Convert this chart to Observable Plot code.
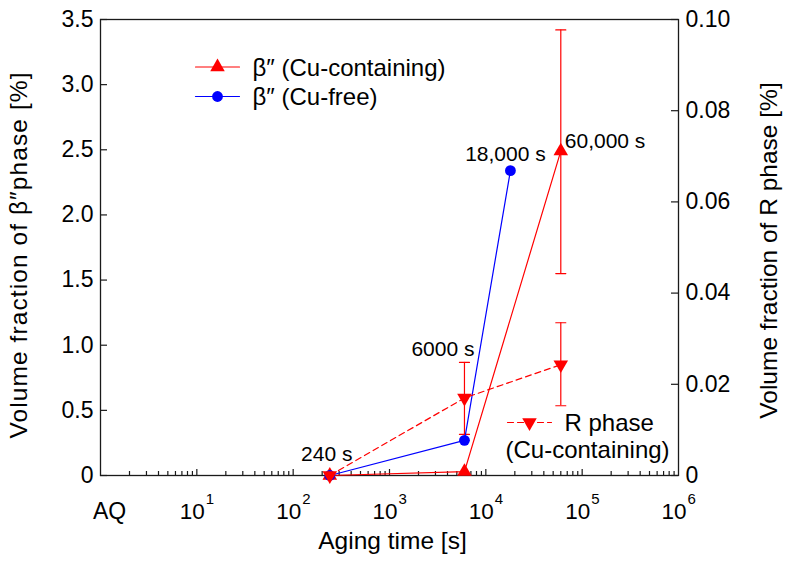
<!DOCTYPE html>
<html>
<head>
<meta charset="utf-8">
<script src="https://cdn.jsdelivr.net/npm/d3@7"></script>
<script src="https://cdn.jsdelivr.net/npm/@observablehq/plot@0.6"></script>
<style>
  html, body { margin: 0; padding: 0; background: #fff; }
</style>
</head>
<body>
<div id="chart"></div>
<script>
// Aging times [s] for each series
const cuTimes = [240, 6000, 60000];
const freeTimes = [240, 6000, 18000];

// β″ volume fraction [%], left axis
const betaCu = [0, 0.03, 2.49];
const betaCuLow = [null, null, 1.55];
const betaCuHigh = [null, null, 3.42];
const betaFree = [0, 0.27, 2.34];

// R phase volume fraction [%], right axis
const rPhase = [0, 0.017, 0.0243];
const rLow = [null, 0.009, 0.0153];
const rHigh = [null, 0.0248, 0.0335];

// Aging-time annotations
const timeLabels = ["240 s", "6000 s", "18,000 s", "60,000 s"];

// Axis ticks
const leftTicks = [0, 0.5, 1.0, 1.5, 2.0, 2.5, 3.0, 3.5];
const rightTicks = [0, 0.02, 0.04, 0.06, 0.08, 0.10];
const decadeExponents = [1, 2, 3, 4, 5, 6];
const xTickLabels = ["AQ"];

// Axis titles
const xTitle = "Aging time [s]";
const leftTitle = "Volume fraction of β\u2033phase [%]";
const rightTitle = "Volume fraction of R phase [%]";

// Right axis maps onto the left scale
const rightMax = 0.10, leftMax = 3.5;
const k = leftMax / rightMax;

const cuRows = cuTimes.map((t, i) => ({t, v: betaCu[i], lo: betaCuLow[i], hi: betaCuHigh[i]}));
const freeRows = freeTimes.map((t, i) => ({t, v: betaFree[i]}));
const rRows = cuTimes.map((t, i) => ({
  t, v: rPhase[i] * k,
  lo: rLow[i] == null ? null : rLow[i] * k,
  hi: rHigh[i] == null ? null : rHigh[i] * k
}));
const errRows = [...cuRows, ...rRows].filter(d => d.lo != null);

const majorTicks = [1, 2, 3, 4, 5].map(e => 10 ** e);
const minorTicks = [];
for (let e = 0; e < 6; e++) for (let m = 2; m <= 9; m++) minorTicks.push(m * 10 ** e);

const RED = "#ff0000", BLUE = "#0000ff", INK = "#1a1a1a";
const W = 789, H = 561, ML = 100, MR = 111, MT = 19, MB = 86;
const plotW = W - ML - MR, plotH = H - MT - MB;
const DASH = "6,4";

// straight segment used for legend lines and error-bar caps
const segment = {draw(context, l) { context.moveTo(0, 0); context.lineTo(0, -l); }};

function legendEntry(label, color, symbol, rotate, dash, dx, dy) {
  return [
    Plot.vector([0], {frameAnchor: "top-left", dx, dy, length: 44, rotate: 90, anchor: "start",
      shape: segment, stroke: color, strokeWidth: 1.2, strokeDasharray: dash}),
    Plot.dot([0], {frameAnchor: "top-left", dx: dx + 22, dy, symbol, r: 5.4, fill: color, rotate}),
    Plot.text([label], {frameAnchor: "top-left", dx: dx + 57, dy: dy + 1, text: d => d,
      textAnchor: "start", lineAnchor: "middle", fontSize: 24, fill: "#000"})
  ];
}

const chart = Plot.plot({
  width: W, height: H,
  marginLeft: ML, marginRight: MR, marginTop: MT, marginBottom: MB,
  style: {fontFamily: "'Liberation Sans', Arial, sans-serif", fontSize: "23px", color: "#000", background: "#fff"},
  x: {type: "log", domain: [1, 1e6], axis: null},
  y: {domain: [0, leftMax]},
  marks: [
    // tick marks pointing into the frame
    Plot.tickY(leftTicks, {y: d => d, insetRight: plotW - 7, stroke: INK, strokeWidth: 1.2}),
    Plot.tickY(rightTicks, {y: d => d * k, insetLeft: plotW - 7, stroke: INK, strokeWidth: 1.2}),
    Plot.tickX(majorTicks, {x: d => d, insetTop: plotH - 6, stroke: INK, strokeWidth: 1.2}),
    Plot.tickX(minorTicks, {x: d => d, insetTop: plotH - 4, stroke: INK, strokeWidth: 1.2}),
    Plot.frame({stroke: INK, strokeWidth: 1.3}),

    // left and right tick labels
    Plot.axisY(leftTicks, {anchor: "left", tickSize: 0, tickPadding: 7, fontSize: 23, label: null,
      tickFormat: d => d === 0 ? "0" : d.toFixed(1)}),
    Plot.axisY(rightTicks.map(d => d * k), {anchor: "right", tickSize: 0, tickPadding: 7, fontSize: 23, label: null,
      tickFormat: d => { const v = d / k; return v < 1e-9 ? "0" : v.toFixed(2); }}),

    // x tick labels: AQ and powers of ten
    Plot.text(xTickLabels, {x: 1, frameAnchor: "bottom", dx: 9, dy: 43, text: d => d,
      textAnchor: "middle", lineAnchor: "bottom", fontSize: 23}),
    Plot.text(decadeExponents, {x: d => 10 ** d, frameAnchor: "bottom", dx: 8, dy: 43, text: () => "10",
      textAnchor: "end", lineAnchor: "bottom", fontSize: 22.5}),
    Plot.text(decadeExponents, {x: d => 10 ** d, frameAnchor: "bottom", dx: 9, dy: 28, text: d => String(d),
      textAnchor: "start", lineAnchor: "bottom", fontSize: 15}),

    // axis titles
    Plot.text([xTitle], {frameAnchor: "bottom", dx: 3, dy: 73, text: d => d,
      textAnchor: "middle", lineAnchor: "bottom", fontSize: 24.5}),
    Plot.text([leftTitle], {frameAnchor: "left", dx: -81, dy: 8, rotate: -90, text: d => d,
      textAnchor: "middle", lineAnchor: "middle", fontSize: 24.5, className: "left-title"}),
    Plot.text([rightTitle], {frameAnchor: "right", dx: 91, dy: 3, rotate: -90, text: d => d,
      textAnchor: "middle", lineAnchor: "middle", fontSize: 24.5}),

    // error bars
    Plot.ruleX(errRows, {x: "t", y1: "lo", y2: "hi", stroke: RED, strokeWidth: 1.2}),
    Plot.vector(errRows, {x: "t", y: "hi", length: 10, rotate: 90, anchor: "middle", shape: segment, stroke: RED, strokeWidth: 1.2}),
    Plot.vector(errRows, {x: "t", y: "lo", length: 10, rotate: 90, anchor: "middle", shape: segment, stroke: RED, strokeWidth: 1.2}),

    // series
    Plot.line(cuRows, {x: "t", y: "v", stroke: RED, strokeWidth: 1.2}),
    Plot.line(freeRows, {x: "t", y: "v", stroke: BLUE, strokeWidth: 1.2}),
    Plot.line(rRows, {x: "t", y: "v", stroke: RED, strokeWidth: 1.2, strokeDasharray: DASH}),
    Plot.dot(cuRows, {x: "t", y: "v", symbol: "triangle", r: 5.4, fill: RED}),
    Plot.dot(freeRows, {x: "t", y: "v", symbol: "circle", r: 5.4, fill: BLUE}),
    Plot.dot(rRows, {x: "t", y: "v", symbol: "triangle", rotate: 180, r: 5.4, fill: RED}),

    // aging-time annotations
    Plot.text([timeLabels[0]], {x: cuTimes[0], y: betaCu[0], dx: -3, dy: -15, text: d => d,
      textAnchor: "middle", lineAnchor: "bottom", fontSize: 21}),
    Plot.text([timeLabels[1]], {x: cuTimes[1], y: rHigh[1] * k, dx: 10, dy: -6, text: d => d,
      textAnchor: "end", lineAnchor: "bottom", fontSize: 21}),
    Plot.text([timeLabels[2]], {x: freeTimes[2], y: betaFree[2], dx: -5, dy: -10, text: d => d,
      textAnchor: "middle", lineAnchor: "bottom", fontSize: 21}),
    Plot.text([timeLabels[3]], {x: cuTimes[2], y: betaCu[2], dx: 4, dy: -3, text: d => d,
      textAnchor: "start", lineAnchor: "bottom", fontSize: 21}),

    // legends
    ...legendEntry("β\u2033 (Cu-containing)", RED, "triangle", 0, null, 95, 47.5),
    ...legendEntry("β\u2033 (Cu-free)", BLUE, "circle", 0, null, 95, 77),
    ...legendEntry("R phase", RED, "triangle", 180, DASH, 407, 403),
    Plot.text(["(Cu-containing)"], {frameAnchor: "top-left", dx: 405, dy: 438, text: d => d,
      textAnchor: "start", lineAnchor: "bottom", fontSize: 24})
  ]
});

// the β″ title is set with wider letter spacing
chart.querySelectorAll(".left-title text").forEach(t => {
  t.setAttribute("textLength", 366);
  t.setAttribute("lengthAdjust", "spacing");
});

document.getElementById("chart").appendChild(chart);
</script>
</body>
</html>
